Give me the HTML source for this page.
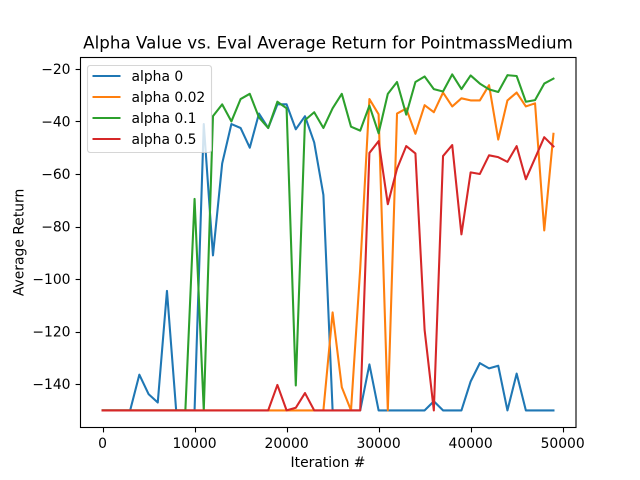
<!DOCTYPE html>
<html>
<head>
<meta charset="utf-8">
<style>
html,body{margin:0;padding:0;background:#fff;}
svg{display:block;font-family:"DejaVu Sans","Liberation Sans",sans-serif;}
</style>
</head>
<body>
<svg id="chart" xmlns="http://www.w3.org/2000/svg" width="640" height="480" viewBox="0 0 640 480">
  <rect x="0" y="0" width="640" height="480" fill="#ffffff"/>
  <text x="328" y="48.5" font-size="16.67" letter-spacing="0.04" text-anchor="middle" fill="#000">Alpha Value vs. Eval Average Return for PointmassMedium</text>
  <text x="328" y="467" font-size="13.89" text-anchor="middle" fill="#000">Iteration #</text>
  <text x="0" y="0" transform="translate(23.5,242.4) rotate(-90)" font-size="13.89" text-anchor="middle" fill="#000">Average Return</text>
  <g id="series-layer"></g>
  <g id="axis-layer"></g>
  <g>
    <rect x="87.5" y="65.5" width="124" height="87" rx="2.8" ry="2.8" fill="#ffffff" fill-opacity="0.8" stroke="#cccccc" stroke-opacity="0.8" stroke-width="1.11"/>
    <g>
      <line x1="92.5" y1="76" x2="120.5" y2="76" stroke="#1f77b4" stroke-width="2.08"/>
      <text x="131.5" y="81" font-size="13.89" fill="#000">alpha 0</text>
    </g>
    <g>
      <line x1="92.5" y1="97" x2="120.5" y2="97" stroke="#ff7f0e" stroke-width="2.08"/>
      <text x="131.5" y="102" font-size="13.89" fill="#000">alpha 0.02</text>
    </g>
    <g>
      <line x1="92.5" y1="118" x2="120.5" y2="118" stroke="#2ca02c" stroke-width="2.08"/>
      <text x="131.5" y="123" font-size="13.89" fill="#000">alpha 0.1</text>
    </g>
    <g>
      <line x1="92.5" y1="139" x2="120.5" y2="139" stroke="#d62728" stroke-width="2.08"/>
      <text x="131.5" y="144" font-size="13.89" fill="#000">alpha 0.5</text>
    </g>
  </g>
</svg>
<script>
const iterations = [0,1000,2000,3000,4000,5000,6000,7000,8000,9000,10000,11000,12000,13000,14000,15000,16000,17000,18000,19000,20000,21000,22000,23000,24000,25000,26000,27000,28000,29000,30000,31000,32000,33000,34000,35000,36000,37000,38000,39000,40000,41000,42000,43000,44000,45000,46000,47000,48000,49000];
const alpha0 = [-150,-150,-150,-150,-136.4,-143.8,-147,-104.5,-150,-150,-150,-41,-91,-56,-41,-42.5,-50,-37,-42.5,-33.5,-33.5,-43,-38,-48,-68,-150,-150,-150,-150,-132.5,-150,-150,-150,-150,-150,-150,-146.5,-150,-150,-150,-139,-132,-134,-133,-150,-136,-150,-150,-150,-150];
const alpha002 = [-150,-150,-150,-150,-150,-150,-150,-150,-150,-150,-150,-150,-150,-150,-150,-150,-150,-150,-150,-150,-150,-150,-150,-150,-150,-112.7,-141.2,-150,-96,-31.5,-37.3,-150,-37,-35.1,-44.7,-33.8,-36.5,-29,-34.3,-31.2,-32,-32,-26.2,-46.9,-32,-29,-34.3,-33.1,-81.5,-44.7];
const alpha01 = [-150,-150,-150,-150,-150,-150,-150,-150,-150,-150,-69.5,-150,-38,-33.5,-40,-31.5,-29.5,-38.5,-42.5,-32.5,-35,-140.5,-39.5,-36.5,-42.5,-35,-29.5,-42,-43.5,-34,-44.5,-29.5,-25,-37.4,-25,-22.9,-27.7,-28.6,-22.1,-27.7,-22.5,-25.6,-27.8,-28.8,-22.4,-22.7,-32.5,-31.9,-25.6,-23.7];
const alpha05 = [-150,-150,-150,-150,-150,-150,-150,-150,-150,-150,-150,-150,-150,-150,-150,-150,-150,-150,-150,-140.3,-150,-149,-143.4,-150,-150,-150,-150,-150,-150,-52,-47.5,-71.5,-58,-49.4,-52.2,-119.4,-150,-53.2,-49,-83,-59.4,-60,-52.9,-53.6,-55.4,-49.4,-62,-54,-46,-49.5];
const xTickValues = [0,10000,20000,30000,40000,50000];
const yTickValues = [-20,-40,-60,-80,-100,-120,-140];

const NS = 'http://www.w3.org/2000/svg';
const plot = {left: 80, right: 576, top: 57.6, bottom: 427.2};
const allValues = alpha0.concat(alpha002, alpha01, alpha05);
const dataMinX = Math.min.apply(null, iterations);
const dataMaxX = Math.max.apply(null, iterations);
const dataMinY = Math.min.apply(null, allValues);
const dataMaxY = Math.max.apply(null, allValues);
const marginX = (dataMaxX - dataMinX) * 0.05;
const marginY = (dataMaxY - dataMinY) * 0.05;

function xScale(v) {
  return plot.left + (v - (dataMinX - marginX)) / ((dataMaxX - dataMinX) + 2 * marginX) * (plot.right - plot.left);
}
function yScale(v) {
  return plot.bottom - (v - (dataMinY - marginY)) / ((dataMaxY - dataMinY) + 2 * marginY) * (plot.bottom - plot.top);
}
function svgEl(tag) {
  return document.createElementNS(NS, tag);
}

const seriesLayer = document.getElementById('series-layer');
function drawSeries(values, color, name) {
  const line = svgEl('polyline');
  
  
  line.setAttribute('fill', 'none');
  line.setAttribute('stroke', color);
  line.setAttribute('stroke-width', '2.08');
  line.setAttribute('stroke-linejoin', 'round');
  line.setAttribute('stroke-linecap', 'square');
  line.setAttribute('points', values.map(function (v, i) {
    return xScale(iterations[i]).toFixed(2) + ',' + yScale(v).toFixed(2);
  }).join(' '));
  seriesLayer.appendChild(line);
}
drawSeries(alpha0, '#1f77b4', 'series-alpha-0');
drawSeries(alpha002, '#ff7f0e', 'series-alpha-0.02');
drawSeries(alpha01, '#2ca02c', 'series-alpha-0.1');
drawSeries(alpha05, '#d62728', 'series-alpha-0.5');

const axisLayer = document.getElementById('axis-layer');
const frame = svgEl('rect');


frame.setAttribute('x', '80.5');
frame.setAttribute('y', '57.5');
frame.setAttribute('width', '495.5');
frame.setAttribute('height', '370');
frame.setAttribute('fill', 'none');
frame.setAttribute('stroke', '#000');
frame.setAttribute('stroke-width', '1.11');
axisLayer.appendChild(frame);

xTickValues.forEach(function (v) {
  const px = Math.round(xScale(v)) + 0.5;
  const tick = svgEl('line');
  
  
  tick.setAttribute('x1', px);
  tick.setAttribute('x2', px);
  tick.setAttribute('y1', '427.5');
  tick.setAttribute('y2', '432.4');
  tick.setAttribute('stroke', '#000');
  tick.setAttribute('stroke-width', '1.11');
  axisLayer.appendChild(tick);
  const label = svgEl('text');
  
  
  label.setAttribute('x', xScale(v).toFixed(2));
  label.setAttribute('y', '448');
  label.setAttribute('font-size', '13.89');
  label.setAttribute('text-anchor', 'middle');
  label.setAttribute('fill', '#000');
  label.textContent = String(v);
  axisLayer.appendChild(label);
});

yTickValues.forEach(function (v) {
  const py = Math.round(yScale(v)) + 0.5;
  const tick = svgEl('line');
  
  
  tick.setAttribute('x1', '75.6');
  tick.setAttribute('x2', '80.5');
  tick.setAttribute('y1', py);
  tick.setAttribute('y2', py);
  tick.setAttribute('stroke', '#000');
  tick.setAttribute('stroke-width', '1.11');
  axisLayer.appendChild(tick);
  const label = svgEl('text');
  
  
  label.setAttribute('x', '70.5');
  label.setAttribute('y', (yScale(v) + 5).toFixed(2));
  label.setAttribute('font-size', '13.89');
  label.setAttribute('text-anchor', 'end');
  label.setAttribute('fill', '#000');
  label.textContent = '\u2212' + Math.abs(v);
  axisLayer.appendChild(label);
});
</script>
</body>
</html>
